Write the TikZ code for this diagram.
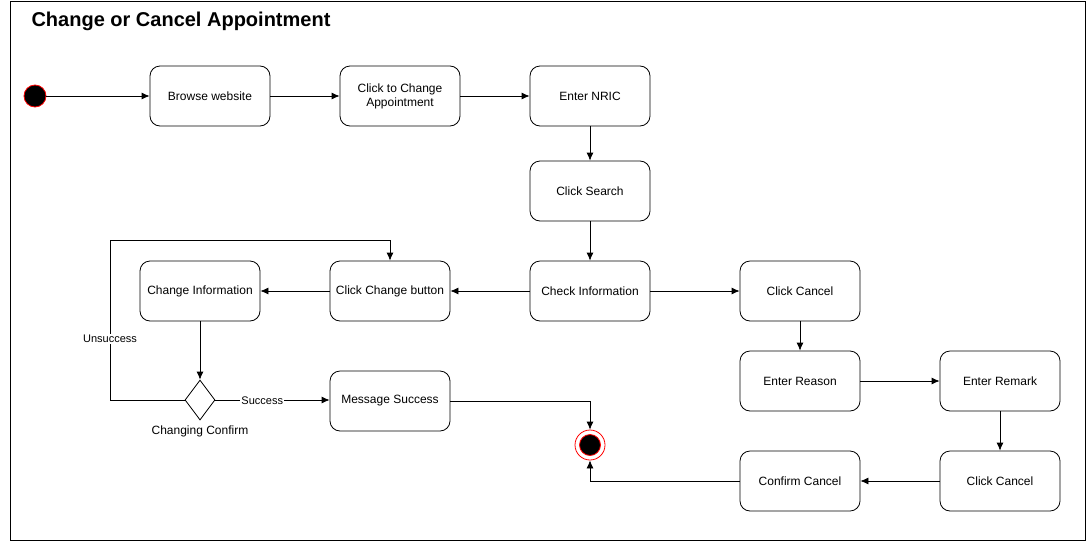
\documentclass[tikz,border=0pt]{standalone}
\usepackage{fontspec}
\setmainfont{Liberation Sans}
\usetikzlibrary{arrows.meta,shapes.geometric}
\begin{document}
\begin{tikzpicture}[x=1pt,y=-1pt,
  act/.style={draw,rounded corners=10pt,minimum width=120pt,minimum height=60pt,align=center,font=\fontsize{12}{14}\selectfont,line width=0.8pt},
  arr/.style={-{Latex[length=8pt,width=7pt]},line width=0.8pt},
  lbl/.style={font=\fontsize{11}{12}\selectfont,fill=white,inner sep=1pt}]
\useasboundingbox (0,0) rectangle (1091,541);
\draw[line width=0.8pt] (10,1.5) rectangle (1085,540);
\node[anchor=west,font=\bfseries\fontsize{20}{23}\selectfont] (title) at (28,21) {Change or Cancel Appointment};
\node[circle,fill=black,draw=red,line width=0.8pt,minimum size=22pt,inner sep=0pt] (start) at (35,96) {};
\node[act] (browse) at (210,96) {Browse website};
\node[act] (clickchg) at (400,96) {Click to Change\\Appointment};
\node[act] (nric) at (590,96) {Enter NRIC};
\node[act] (search) at (590,191) {Click Search};
\node[act] (check) at (590,291) {Check Information};
\node[act] (chgbtn) at (390,291) {Click Change button};
\node[act] (chginfo) at (200,291) {Change Information};
\node[diamond,draw,line width=0.8pt,minimum width=30pt,minimum height=40pt,inner sep=0pt,aspect=0.75] (dec) at (200,400) {};
\node[font=\fontsize{12}{13}\selectfont] (declbl) at (200,431) {Changing Confirm};
\node[act] (msg) at (390,401) {Message Success};
\node[circle,draw=red,fill=white,line width=0.8pt,minimum size=30pt,inner sep=0pt] (end) at (590,445) {};
\node[circle,draw=red,fill=black,line width=0.8pt,minimum size=21pt,inner sep=0pt] (endin) at (590,445) {};
\node[act] (cancel1) at (800,291) {Click Cancel};
\node[act] (reason) at (800,381) {Enter Reason};
\node[act] (remark) at (1000,381) {Enter Remark};
\node[act] (cancel2) at (1000,481) {Click Cancel};
\node[act] (confirm) at (800,481) {Confirm Cancel};
\coordinate (u1) at (110,400);
\coordinate (u2) at (110,240);
\coordinate (u3) at (390,240);
\coordinate (m1) at (590,401);
\coordinate (c1) at (590,481);
\draw[arr] (start) -- (browse);
\draw[arr] (browse) -- (clickchg);
\draw[arr] (clickchg) -- (nric);
\draw[arr] (nric) -- (search);
\draw[arr] (search) -- (check);
\draw[arr] (check) -- (chgbtn);
\draw[arr] (chgbtn) -- (chginfo);
\draw[arr] (check) -- (cancel1);
\draw[arr] (chginfo) -- (dec.north);
\draw[arr] (dec.east) -- node[lbl,pos=0.41,yshift=-1pt] {Success} (msg.west |- dec.east);
\draw[arr] (dec.west) -- (u1) -- node[lbl,pos=0.38] {Unsuccess} (u2) -- (u3) -- (chgbtn.north);
\draw[arr] (msg.east) -- (m1) -- (end.north);
\draw[arr] (cancel1) -- (reason);
\draw[arr] (reason) -- (remark);
\draw[arr] (remark) -- (cancel2);
\draw[arr] (cancel2) -- (confirm);
\draw[arr] (confirm.west) -- (c1) -- (end.south);
\end{tikzpicture}
\end{document}
